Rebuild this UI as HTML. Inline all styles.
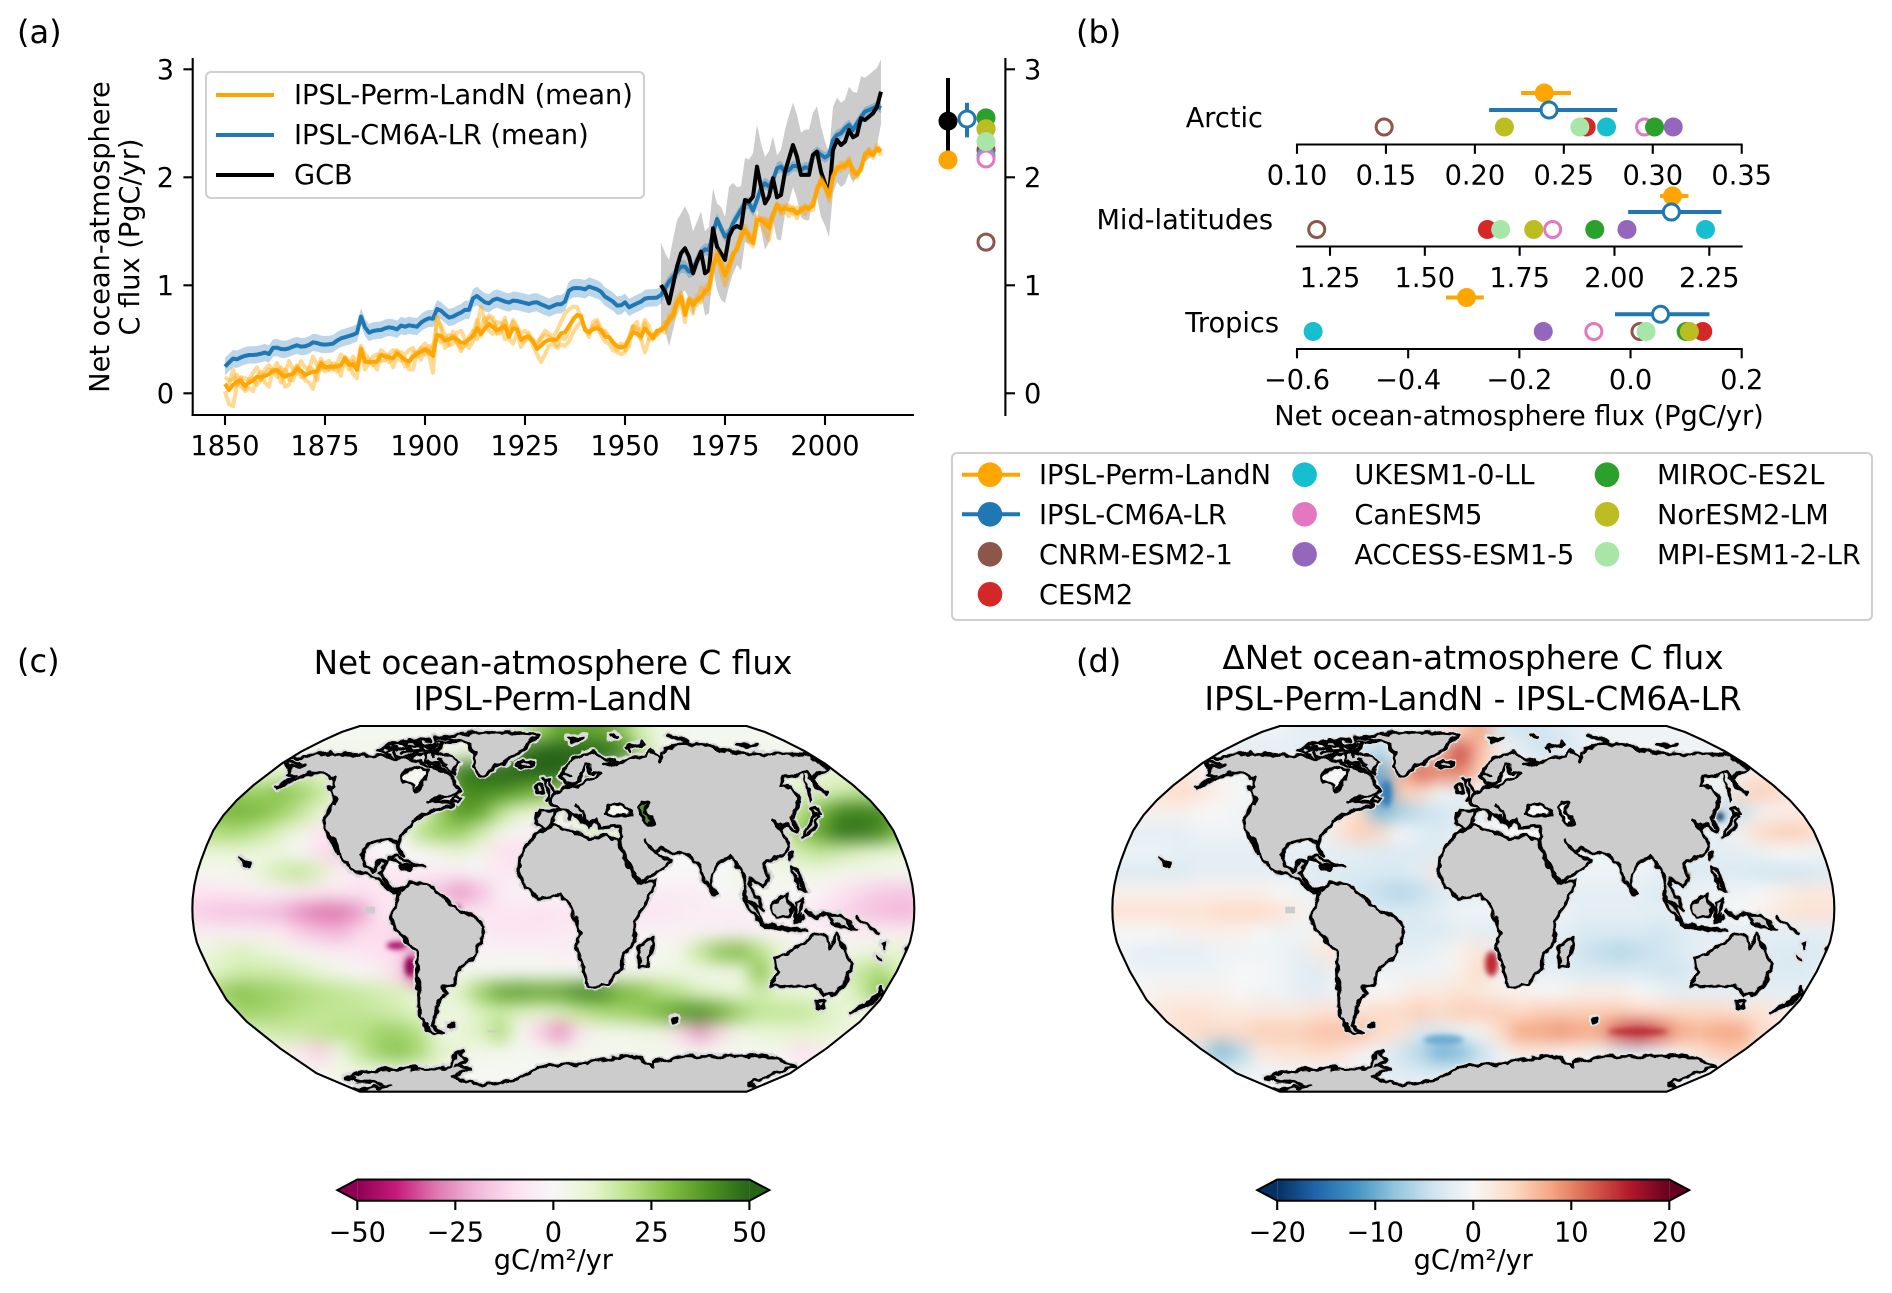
<!DOCTYPE html>
<html lang="en">
<head>
<meta charset="utf-8">
<title>Net ocean-atmosphere carbon flux</title>
<style>
html,body{margin:0;padding:0;background:#fff;}
#figure{display:block;font-family:"DejaVu Sans","Liberation Sans",sans-serif;fill:#000;}
.tick{font-size:27.2px;}
.title{font-size:32.7px;text-anchor:middle;}
.panel{font-size:32px;}
.coast{fill:#cccccc;stroke:var(--cs,#000);stroke-width:var(--cw,3.2);vector-effect:non-scaling-stroke;stroke-linejoin:round;}
.sea{fill:var(--sea);stroke:var(--cs,#000);stroke-width:var(--cw,3.2);vector-effect:non-scaling-stroke;stroke-linejoin:round;}
.lake{fill:var(--lake);stroke:var(--cs,#000);stroke-width:var(--cw,3.2);vector-effect:non-scaling-stroke;stroke-linejoin:round;}
.ln{fill:none;stroke:var(--cs,#000);stroke-width:var(--cw,3.4);vector-effect:non-scaling-stroke;stroke-linejoin:round;stroke-linecap:round;}
.blob{fill:var(--cs,#000);stroke:var(--cs,#000);stroke-width:var(--cw,1.5);vector-effect:non-scaling-stroke;stroke-linejoin:round;}
.edge{fill:none;stroke:#000;stroke-width:2.1;vector-effect:non-scaling-stroke;}
</style>
</head>
<body>
<svg id="figure" xmlns="http://www.w3.org/2000/svg" width="1892" height="1293" viewBox="0 0 1892 1293">
<defs>
  <filter id="field-blur" filterUnits="userSpaceOnUse" x="-150" y="-150" width="2500" height="1450" color-interpolation-filters="sRGB">
    <feGaussianBlur stdDeviation="26"/>
  </filter>
  <filter id="hotspot-blur" filterUnits="userSpaceOnUse" x="-150" y="-150" width="2500" height="1450" color-interpolation-filters="sRGB">
    <feGaussianBlur stdDeviation="8"/>
  </filter>
  <filter id="coast-wobble" filterUnits="userSpaceOnUse" x="-50" y="-50" width="2300" height="1250" color-interpolation-filters="sRGB">
    <feTurbulence type="fractalNoise" baseFrequency=".035" numOctaves="2" seed="4" result="n"/>
    <feDisplacementMap in="SourceGraphic" in2="n" scale="22" xChannelSelector="R" yChannelSelector="G"/>
  </filter>
  <clipPath id="map-clip"><path id="map-clip-path" d=""/></clipPath>
  <linearGradient id="cbar-c" x1="0" x2="1" y1="0" y2="0">
    <stop offset="0" stop-color="#8e0152"/><stop offset=".1" stop-color="#c51b7d"/><stop offset=".2" stop-color="#de77ae"/><stop offset=".3" stop-color="#f1b6da"/><stop offset=".4" stop-color="#fde0ef"/><stop offset=".5" stop-color="#f7f7f7"/><stop offset=".6" stop-color="#e6f5d0"/><stop offset=".7" stop-color="#b8e186"/><stop offset=".8" stop-color="#7fbc41"/><stop offset=".9" stop-color="#4d9221"/><stop offset="1" stop-color="#276419"/>
  </linearGradient>
  <linearGradient id="cbar-d" x1="0" x2="1" y1="0" y2="0">
    <stop offset="0" stop-color="#053061"/><stop offset=".1" stop-color="#2166ac"/><stop offset=".2" stop-color="#4393c3"/><stop offset=".3" stop-color="#92c5de"/><stop offset=".4" stop-color="#d1e5f0"/><stop offset=".5" stop-color="#f7f7f7"/><stop offset=".6" stop-color="#fddbc7"/><stop offset=".7" stop-color="#f4a582"/><stop offset=".8" stop-color="#d6604d"/><stop offset=".9" stop-color="#b2182b"/><stop offset="1" stop-color="#67001f"/>
  </linearGradient>
  <g id="land">
    <path class="coast" d="M285,125 L300,110 L330,108 L365,100 L420,92 L480,98 L520,102 L560,100 L600,108 L650,108 L700,122 L720,135 L760,150 L785,162 L800,190 L806,208 L770,222 L735,232 L710,243 L745,238 L775,240 L790,250 L760,258 L735,266 L700,277 L668,298 L655,322 L630,345 L622,362 L628,378 L640,398 L625,392 L618,362 L600,352 L570,356 L540,363 L522,378 L515,405 L527,432 L548,447 L560,440 L568,420 L585,415 L578,440 L570,452 L590,485 L610,500 L630,508 L612,512 L590,497 L565,472 L530,458 L495,450 L470,432 L450,405 L432,375 L420,345 L408,320 L403,290 L415,262 L428,245 L438,230 L420,205 L435,190 L430,170 L400,155 L370,152 L335,165 L300,180 L258,195 L300,170 L320,160 L290,160 L300,140 Z"/>
    <path class="sea" d="M635,165 L650,145 L690,135 L715,145 L710,165 L690,180 L680,210 L672,205 L670,190 L640,180 Z"/>
    <path class="coast" d="M735,48 L790,42 L820,58 L770,62 L735,58 Z M700,100 L735,88 L775,100 L810,120 L800,135 L780,155 L760,145 L735,125 L705,115 Z M610,85 L650,75 L680,95 L650,108 L615,100 Z M565,85 L600,65 L615,75 L590,95 Z M625,62 L680,55 L700,70 L660,72 Z M690,70 L730,65 L725,85 L695,85 Z M720,120 L750,125 L745,140 L725,135 Z"/>
    <path class="ln" d="M590,75 L620,85 M640,90 L700,85 M680,60 L730,80 M700,105 L740,70 M575,90 L600,100 M730,100 L760,60 M605,62 L650,65 M655,50 L720,55 M670,105 L705,95 M745,110 L770,125 M760,130 L790,150 M290,118 L345,128 L300,135 Z"/>
    <path class="coast" d="M800,55 L740,45 L850,32 L950,32 L1045,38 L1020,60 L995,90 L960,110 L920,130 L885,160 L865,155 L850,130 L855,95 L835,65 Z"/>
    <path class="coast" d="M980,125 L1000,115 L1030,122 L1020,135 L990,135 Z"/>
    <path class="coast" d="M1060,170 L1080,175 L1090,210 L1100,225 L1070,232 L1075,205 Z M1037,195 L1055,190 L1060,208 L1042,212 Z"/>
    <path class="coast" d="M795,222 L815,228 L805,243 L785,238 Z"/>
    <path class="blob" d="M425,345 L435,350 L447,400 L438,402 Z M412,195 L425,195 L425,210 L414,208 Z M430,225 L445,232 L438,245 L428,238 Z"/>
    <path class="coast" d="M590,408 L620,402 L650,415 L700,435 L660,430 L620,420 Z M630,432 L665,434 L660,440 L632,440 Z"/>
    <path class="blob" d="M148,408 L165,420 L178,425 L175,435 L162,430 Z"/>
    <path class="coast" d="M1045,265 L1110,268 L1080,240 L1085,225 L1100,210 L1130,195 L1165,192 L1190,178 L1230,157 L1196,152 L1198,127 L1186,128 L1174,165 L1150,186 L1128,186 L1110,160 L1140,120 L1180,95 L1210,92 L1245,108 L1275,118 L1245,125 L1265,132 L1305,112 L1370,100 L1380,85 L1415,115 L1415,90 L1480,62 L1550,70 L1590,82 L1645,92 L1720,95 L1780,97 L1860,100 L1920,145 L1880,155 L1865,172 L1880,195 L1908,215 L1890,205 L1865,178 L1850,150 L1825,160 L1780,165 L1770,188 L1805,197 L1828,228 L1825,255 L1808,278 L1802,290 L1825,322 L1818,330 L1795,312 L1770,315 L1745,295 L1775,322 L1792,350 L1795,375 L1770,405 L1730,418 L1720,430 L1740,465 L1725,497 L1685,470 L1678,495 L1705,530 L1720,565 L1700,550 L1660,522 L1670,470 L1645,435 L1622,405 L1590,420 L1565,455 L1560,490 L1578,520 L1560,505 L1545,480 L1520,420 L1480,390 L1440,395 L1415,378 L1390,388 L1368,355 L1385,385 L1410,398 L1440,420 L1420,440 L1350,478 L1320,440 L1285,355 L1295,345 L1292,312 L1230,318 L1215,290 L1200,310 L1185,285 L1158,250 L1180,280 L1195,318 L1165,280 L1120,262 L1090,272 L1090,295 L1075,318 L1037,310 Z"/>
    <path class="sea" d="M1245,275 L1260,248 L1295,245 L1315,265 L1320,280 L1270,282 Z"/>
    <path class="lake" d="M1346,255 L1356,242 L1372,246 L1366,268 L1392,303 L1372,308 L1356,278 Z"/>
    <path class="blob" d="M1135,270 L1145,268 L1142,295 L1133,295 Z"/>
    <path class="coast" d="M1060,325 L1090,310 L1110,318 L1140,322 L1155,330 L1200,350 L1250,342 L1278,350 L1310,420 L1345,482 L1395,476 L1385,510 L1365,549 L1330,600 L1335,660 L1297,700 L1295,740 L1255,787 L1195,794 L1175,725 L1160,680 L1170,625 L1150,575 L1140,548 L1110,515 L1080,527 L1050,530 L1020,510 L1000,485 L985,455 L990,410 L1010,370 L1035,340 Z"/>
    <path class="coast" d="M1345,679 L1385,641 L1392,669 L1370,729 L1348,734 Z"/>
    <path class="coast" d="M630,505 L660,482 L720,490 L760,530 L800,559 L860,589 L885,614 L855,704 L810,734 L790,789 L760,794 L770,814 L745,839 L728,914 L762,929 L725,932 L690,884 L685,799 L680,684 L640,649 L605,604 L608,569 L622,530 Z"/>
    <path class="blob" d="M773,905 L783,901 L794,905 L794,916 L783,920 L773,916 Z M1446,889 L1453,886 L1462,889 L1462,899 L1453,902 L1446,899 Z"/>
    <path class="coast" d="M820,984 L795,999 L785,1029 L770,1039 L680,1039 L560,1044 L510,1054 L465,1067 L500,1079 L540,1079 L600,1094 L540,1097 L490,1099 L510,1130 L1670,1130 L1700,1094 L1675,1084 L1730,1064 L1815,1031 L1745,1007 L1700,999 L1580,1004 L1480,1004 L1390,1019 L1390,1034 L1330,999 L1180,1024 L1080,1029 L1040,1039 L980,1074 L880,1089 L830,1079 L790,1064 L820,1049 L840,1040 L800,1030 L830,1020 L810,1000 Z"/>
    <path class="blob" d="M462,1064 L480,1060 L494,1068 L478,1076 Z M658,1034 L684,1034 L686,1048 L660,1050 Z"/>
    <path class="coast" d="M1740,794 L1760,749 L1755,709 L1820,679 L1875,639 L1910,644 L1918,679 L1940,634 L1965,689 L1985,729 L1970,774 L1935,814 L1900,824 L1875,789 L1830,789 L1780,794 Z"/>
    <path class="coast" d="M1880,839 L1905,839 L1895,859 L1883,857 Z M1980,874 L2040,844 L2080,814 L2070,794 L2065,819 L2025,844 Z"/>
    <path class="coast" d="M1660,522 L1690,549 L1720,600 L1715,605 L1680,565 Z M1745,549 L1790,515 L1805,560 L1800,584 L1760,584 L1745,560 Z M1720,604 L1790,615 L1850,627 L1790,624 L1730,612 Z"/>
    <path class="coast" d="M1910,575 L1950,580 L2000,620 L1960,615 L1930,600 Z M1815,540 L1840,530 L1830,570 L1815,590 Z M1815,590 L1835,580 L1830,598 Z"/>
    <path class="coast" d="M1838,345 L1850,340 L1878,312 L1886,282 L1876,272 L1868,300 L1845,325 Z M1862,262 L1880,258 L1885,270 L1870,275 Z"/>
    <path class="ln" d="M2000,585 L2060,630 M1805,435 L1820,440 L1850,510 L1825,500 Z M1870,580 L1905,575 M1815,600 L1845,585 M1850,570 L1880,585 M1825,470 L1840,500 M1812,560 L1822,600"/>
    <path class="blob" d="M1795,390 L1805,392 L1802,412 L1795,410 Z M1865,225 L1855,195 L1840,160 L1850,190 L1862,240 Z M2080,662 L2088,662 L2086,682 L2081,680 Z M2060,700 L2070,712 L2072,718 L2064,712 Z M2145,680 L2165,672 L2160,690 L2148,690 Z"/>
    <path class="blob" d="M1130,48 L1185,42 L1165,60 L1145,60 Z M1258,40 L1282,40 L1280,47 L1260,47 Z"/>
    <path class="ln" d="M1310,78 L1360,62 L1315,72 L1320,88 M1430,40 L1490,55 M1640,68 L1700,72 M1120,150 L1140,160"/>
  </g>
</defs>

<rect x="0" y="0" width="1892" height="1293" fill="#fff"/>

<text class="panel" x="17" y="43">(a)</text>
<text class="panel" x="1076" y="43">(b)</text>
<text class="panel" x="17" y="672">(c)</text>
<text class="panel" x="1076" y="672">(d)</text>

<!-- panel a -->
<g id="panel-a">
  <g id="a-series"></g>
  <line x1="192.7" x2="192.7" y1="58" y2="416" stroke="#000" stroke-width="2.1"/>
  <line x1="191.6" x2="914" y1="415" y2="415" stroke="#000" stroke-width="2.1"/>
  <line x1="1005.4" x2="1005.4" y1="58" y2="416" stroke="#000" stroke-width="2.1"/>
  <g id="a-axes"></g>
  <g id="a-points"></g>
  <g class="tick" text-anchor="middle">
    <text transform="translate(109,237) rotate(-90)">Net ocean-atmosphere</text>
    <text transform="translate(139,237) rotate(-90)">C flux (PgC/yr)</text>
  </g>
  <g>
    <rect x="206" y="72" width="438" height="126" rx="5" fill="#fff" fill-opacity=".8" stroke="#cfcfcf" stroke-width="2.1"/>
    <line x1="216" x2="274" y1="95" y2="95" stroke="#ffa500" stroke-width="4"/>
    <text class="tick" x="294" y="104">IPSL-Perm-LandN (mean)</text>
    <line x1="216" x2="274" y1="135" y2="135" stroke="#1f77b4" stroke-width="4"/>
    <text class="tick" x="294" y="144">IPSL-CM6A-LR (mean)</text>
    <line x1="216" x2="274" y1="175" y2="175" stroke="#000" stroke-width="4"/>
    <text class="tick" x="294" y="184">GCB</text>
  </g>
</g>

<!-- panel b -->
<g id="panel-b">
  <g id="b-axes"></g>
  <g id="b-points"></g>
  <text class="tick" x="1263" y="127" text-anchor="end">Arctic</text>
  <text class="tick" x="1273" y="229" text-anchor="end">Mid-latitudes</text>
  <text class="tick" x="1279" y="332" text-anchor="end">Tropics</text>
  <text class="tick" x="1519" y="425" text-anchor="middle">Net ocean-atmosphere flux (PgC/yr)</text>
</g>

<!-- legend b -->
<g id="b-legend">
  <rect x="952" y="453" width="920" height="167" rx="5" fill="#fff" stroke="#cfcfcf" stroke-width="2.1"/>
</g>

<!-- panel c -->
<text class="title" x="553" y="674">Net ocean-atmosphere C flux</text>
<text class="title" x="553" y="710">IPSL-Perm-LandN</text>
<g transform="translate(190,722) scale(.33333)" style="--sea:#f6f8f0;--lake:#4d9221">
  <g clip-path="url(#map-clip)">
    <rect x="-10" y="-10" width="2200" height="1130" fill="#f7f7f7"/>
    <g id="field-c" filter="url(#field-blur)"></g>
    <g id="hotspots-c" filter="url(#hotspot-blur)"></g>
    <rect x="526" y="554" width="29" height="20" fill="#ccc"/>
    <rect x="893" y="925" width="28" height="6" fill="#ccc"/>
    <g filter="url(#coast-wobble)">
      <use href="#land" style="--cs:#dcdcdc;--cw:7"/>
      <use href="#land"/>
    </g>
  </g>
  <path class="edge map-edge" d=""/>
</g>
<g id="cbar-c-group"></g>

<!-- panel d -->
<text class="title" x="1473" y="669">ΔNet ocean-atmosphere C flux</text>
<text class="title" x="1473" y="710">IPSL-Perm-LandN - IPSL-CM6A-LR</text>
<g transform="translate(1110,722) scale(.33333)" style="--sea:#f7f7f7;--lake:#f7f7f7">
  <g clip-path="url(#map-clip)">
    <rect x="-10" y="-10" width="2200" height="1130" fill="#f7f7f7"/>
    <g id="field-d" filter="url(#field-blur)"></g>
    <g id="hotspots-d" filter="url(#hotspot-blur)"></g>
    <rect x="526" y="554" width="29" height="20" fill="#ccc"/>
    <g filter="url(#coast-wobble)">
      <use href="#land" style="--cs:#e2e2e2;--cw:6"/>
      <use href="#land"/>
    </g>
  </g>
  <path class="edge map-edge" d=""/>
</g>
<g id="cbar-d-group"></g>
</svg>

<script>
// ---------- panel (a) data: PgC/yr, one value per year from 1850 (GCB from 1959) ----------
var firstYear = 1850;
var gcbFirstYear = 1959;
var xTickYears = [1850,1875,1900,1925,1950,1975,2000];
var yTickValues = [0,1,2,3];
var cm6aMean = [
.247,.284,.321,.315,.333,.346,.355,.355,.358,.367,
.377,.364,.42,.423,.41,.407,.417,.432,.444,.432,
.435,.448,.472,.466,.454,.451,.454,.46,.488,.509,
.519,.531,.543,.559,.71,.611,.562,.577,.583,.586,
.602,.611,.605,.593,.627,.617,.63,.623,.617,.654,
.679,.694,.691,.781,.765,.731,.701,.71,.731,.747,
.772,.772,.88,.901,.87,.843,.833,.864,.877,.864,
.849,.84,.858,.855,.846,.836,.827,.84,.843,.824,
.809,.793,.809,.824,.824,.849,.951,.972,.975,.972,
.963,.988,.975,.963,.941,.895,.873,.849,.812,.815,
.843,.796,.815,.833,.849,.877,.883,.883,.886,.91,
.97,1.034,1.074,1.127,1.173,1.173,1.127,1.142,1.235,1.296,
1.333,1.327,1.481,1.614,1.528,1.451,1.481,1.574,1.636,1.698,
1.759,1.759,1.691,1.79,1.898,1.944,1.914,1.975,2.083,2.099,
2.052,2.068,2.105,2.105,2.068,2.093,2.083,2.207,2.238,2.207,
2.182,2.207,2.346,2.392,2.407,2.454,2.485,2.438,2.5,2.556,
2.608,2.623,2.639,2.66,2.639];
var cm6aSpreadByDecade = [.08,.08,.08,.08,.08,.08,.085,.085,.085,.085,.08,.06,.055,.055,.05,.05,.045];
var permMean = [
.086,.031,.077,.108,.117,.068,.099,.117,.154,.148,
.16,.179,.21,.216,.179,.154,.17,.179,.231,.21,
.17,.185,.201,.2,.278,.241,.247,.247,.247,.262,
.324,.262,.272,.216,.407,.293,.293,.293,.293,.355,
.34,.333,.324,.37,.34,.309,.293,.34,.364,.386,
.407,.386,.346,.54,.531,.488,.5,.519,.5,.469,
.469,.5,.531,.602,.549,.602,.642,.611,.586,.602,
.623,.525,.602,.593,.494,.519,.525,.478,.41,.441,
.478,.494,.494,.5,.556,.565,.623,.679,.725,.716,
.586,.565,.593,.602,.586,.525,.519,.469,.432,.423,
.432,.5,.565,.556,.525,.602,.556,.509,.58,.586,
.617,.685,.725,.833,.895,.725,.864,.818,.864,.895,
.941,.972,1.173,1.281,1.188,1.09,1.173,1.281,1.343,1.451,
1.512,1.451,1.389,1.605,1.605,1.574,1.528,1.651,1.744,1.698,
1.713,1.698,1.698,1.667,1.698,1.713,1.713,1.738,1.883,1.975,
1.914,1.821,2.006,2.083,2.099,2.105,2.145,2.052,2.022,2.083,
2.207,2.238,2.207,2.269,2.238];
var permMemberA = [
.02,-.10,-.12,.08,.14,.02,.05,.02,.14,.20,
.10,.06,.22,.28,.20,.06,.08,.20,.26,.18,
.12,.10,.04,.22,.32,.24,.22,.28,.26,.16,
.34,.29,.18,.14,.42,.36,.32,.26,.30,.40,
.37,.29,.33,.40,.34,.25,.26,.38,.37,.42,
.46,.36,.19,.71,.60,.42,.46,.57,.47,.42,
.44,.52,.58,.50,.62,.70,.58,.55,.66,.65,
.50,.58,.66,
.60,.50,.48,.56,.44,.36,.29,.36,.44,.46,
.42,.45,.44,.48,.56,.62,.66,.60,.55,.62,
.66,.54,.48,.46,.40,.38,.36,.38,.44,.62,
.66,.50,.38,.50,.55,.56,.60,
.60,.66,.78,.86,.84,.66,.88,.86,.82,.98,
.92,.92,1.14,1.28,1.12,1.00,1.12,1.30,1.32,1.42,
1.50,1.40,1.36,1.55,1.58,1.50,1.42,1.62,1.76,1.66,
1.68,1.64,1.72,1.62,1.72,1.66,1.72,1.78,1.85,2.00,
1.92,1.78,2.00,2.06,2.14,2.08,2.18,2.00,2.00,2.10,
2.18,2.26,2.18,2.30,2.20];
var permMemberB = [
.15,.12,.13,.17,.06,.04,.13,.19,.24,.12,
.22,.26,.20,.15,.24,.18,.30,.22,.18,.30,
.24,.22,.34,.26,.22,.28,.30,.22,.28,.36,
.30,.22,.30,.24,.36,.22,.28,.34,.36,.30,
.30,.36,.40,.38,.38,.36,.40,.42,.34,.42,
.36,.44,.38,.70,.62,.54,.44,.46,.56,.58,
.50,.42,.48,.62,.80,.66,.72,.70,.56,.60,
.70,.52,.68,
.62,.55,.58,.52,.50,.46,.52,.58,.55,.52,
.58,.66,.74,.78,.80,.80,.70,.60,.52,.66,
.68,.60,.56,.52,.46,.40,.44,.40,.50,.62,
.60,.58,.68,.62,.50,.54,.60,
.56,.72,.70,.76,.92,.78,.82,.74,.90,.84,
.98,1.02,1.20,1.24,1.22,1.14,1.20,1.24,1.38,1.44,
1.55,1.48,1.40,1.64,1.62,1.60,1.58,1.66,1.72,1.74,
1.72,1.74,1.66,1.72,1.68,1.74,1.70,1.70,1.92,1.94,
1.90,1.84,2.02,2.10,2.06,2.14,2.10,2.08,2.04,2.06,
2.22,2.20,2.24,2.24,2.28];
var permMemberC = [
.09,.07,.22,.07,.15,.14,.12,.14,.08,.12,
.18,.22,.21,.22,.10,.22,.13,.12,.25,.15,
.15,.24,.22,.12,.29,.20,.22,.24,.20,.27,
.33,.27,.34,.27,.44,.30,.28,.28,.22,.36,
.35,.35,.24,.33,.30,.33,.22,.22,.38,.31,
.41,.36,.45,.52,.47,.50,.54,.53,.47,.39,
.47,.50,.55,.68,.53,.62,.70,.66,.55,.56,
.67,.50,.46,.56,.43,.50,.50,.49,.42,.51,
.54,.52,.50,.44,.52,.50,.58,.70,.72,.70,
.60,.57,.60,.62,.56,.58,.52,.48,.44,.46,
.44,.52,.62,.54,.50,.65,.50,.52,.54,.58,
.66,.66,.70,.88,.93,.74,.88,.85,.87,.86,
.95,.98,1.18,1.32,1.22,1.13,1.20,1.30,1.33,1.49,
1.49,1.47,1.41,1.62,1.62,1.62,1.58,1.67,1.75,1.68,
1.74,1.72,1.72,1.66,1.70,1.74,1.72,1.74,1.88,1.98,
1.92,1.84,2.00,2.08,2.10,2.10,2.16,2.08,2.02,2.08,
2.22,2.26,2.20,2.26,2.24];
var gcbMean = [
1.003,.941,.833,1.003,1.173,1.296,1.343,1.265,1.111,1.219,
1.312,1.111,1.142,1.528,1.358,1.296,1.235,1.451,1.528,1.549,
1.528,1.79,1.775,1.821,2.099,1.914,1.759,1.821,1.991,1.815,
1.836,2.052,2.176,2.299,2.191,2.022,2.022,2.022,2.207,2.238,
2.052,1.944,1.836,2.253,2.346,2.299,2.33,2.438,2.37,2.392,
2.546,2.531,2.562,2.593,2.654,2.793];
var gcbError = [
.39,.36,.40,.42,.43,.37,.39,.39,.39,.37,
.37,.39,.40,.37,.40,.43,.40,.46,.42,.36,
.39,.39,.39,.40,.39,.40,.43,.42,.39,.39,
.42,.39,.40,.39,.39,.39,.42,.42,.39,.42,
.42,.39,.39,.40,.39,.39,.39,.40,.42,.39,
.39,.39,.39,.39,.36,.30];

// present-day summary points in panel (a)
var aSideMeans = [
  {name:'gcb', col:0, value:2.52, low:2.12, high:2.92, color:'#000000', hollow:false},
  {name:'ipsl-perm-landn', col:0, value:2.16, color:'#ffa500', hollow:false},
  {name:'ipsl-cm6a-lr', col:1, value:2.54, low:2.37, high:2.69, color:'#1f77b4', hollow:true}
];

// ---------- panel (b) data ----------
var modelOrder = ['CNRM-ESM2-1','CESM2','UKESM1-0-LL','CanESM5','ACCESS-ESM1-5','MIROC-ES2L','NorESM2-LM','MPI-ESM1-2-LR'];
var modelColors = ['#8c564b','#d62728','#17becf','#e377c2','#9467bd','#2ca02c','#bcbd22','#a8e6a8'];
var modelHollow = [true,false,false,true,false,false,false,false];
var globalModelValues = [1.40,2.25,2.20,2.17,2.45,2.55,2.45,2.33];
var arcticModelValues = [.149,.2626,.274,.2954,.3115,.301,.2166,.259];
var midlatModelValues = [1.215,1.665,2.24,1.837,2.033,1.948,1.787,1.70];
var tropicsModelValues = [.017,.13,-.571,-.066,-.157,.10,.106,.028];
var arcticTicks = ['0.10','0.15','0.20','0.25','0.30','0.35'];
var midlatTicks = ['1.25','1.50','1.75','2.00','2.25'];
var tropicsTicks = ['-0.6','-0.4','-0.2','0.0','0.2'];
var arcticPerm = [.239,.226,.254];
var arcticCm6a = [.2417,.208,.28];
var midlatPerm = [2.153,2.12,2.195];
var midlatCm6a = [2.15,2.036,2.282];
var tropicsPerm = [-.295,-.332,-.264];
var tropicsCm6a = [.054,-.028,.142];

// ---------- maps: gC/m2/yr on a coarse grid of ocean samples (19 rows x 37 columns, north to south, west to east) ----------
var fluxFieldC = [
[2,2,2,2,2,2,2,2,2,2,2,2,2,2,3,3,8,25,35,35,35,28,14,5,3,2,2,2,2,2,2,2,2,2,2,2,2],
[3,3,3,3,3,3,3,3,3,3,3,3,3,5,10,20,45,50,50,50,50,45,22,5,3,3,3,3,3,3,3,3,3,3,3,3,3],
[5,5,5,5,10,12,10,8,5,5,5,5,10,45,48,50,50,50,50,46,22,5,3,3,3,3,3,3,3,3,3,10,10,8,3,3,3],
[25,25,25,25,28,25,18,10,5,5,3,3,15,40,42,40,36,30,25,15,5,5,5,5,5,5,5,5,5,10,12,12,15,18,15,10,5],
[25,30,32,30,25,18,10,5,5,5,5,5,25,38,35,20,10,8,5,5,5,5,5,5,5,5,5,5,10,15,20,30,42,44,42,30,20],
[20,22,22,18,12,5,-8,-8,0,0,0,20,25,25,15,3,-2,-5,-3,8,15,10,0,0,0,0,0,0,8,12,25,36,46,46,42,30,20],
[8,8,8,6,5,0,-10,-15,-8,0,0,0,3,8,3,-10,-10,-5,-3,0,0,0,0,0,0,0,0,0,5,10,15,18,15,12,10,8,5],
[2,2,3,8,15,18,12,-3,-10,-8,-5,-5,-5,-3,-2,-6,-8,-2,0,0,0,0,0,0,0,0,0,5,3,3,5,5,3,3,3,2,2],
[-8,-8,-6,-4,-3,-5,-6,-6,-7,-8,-10,-15,-18,-25,-18,-5,-2,0,0,-2,-3,-3,-3,-5,-5,-5,0,2,2,2,0,-2,-8,-12,-15,-16,-15],
[-14,-17,-17,-18,-20,-26,-30,-30,-24,-8,-5,-5,-5,-8,-8,-8,-8,-10,-8,-8,-8,-8,-8,-8,-6,-5,-5,-5,-3,-3,-5,-8,-12,-16,-18,-20,-18],
[-5,-5,-5,-5,-6,-14,-18,-20,-12,-10,-15,-8,-5,-5,-5,-8,-8,-8,-6,-6,-6,-5,-3,-3,-3,-3,-3,-4,-3,-3,-3,-3,-4,-5,-5,-5,-5],
[5,10,12,10,5,2,-3,-5,-8,-10,-12,-30,-5,-3,-3,-2,-2,-2,-4,-5,-5,-3,-1,2,5,18,28,30,20,10,5,5,3,5,8,10,10],
[10,12,15,15,15,12,8,3,0,-5,-12,-40,-5,3,2,2,2,2,2,0,-1,2,3,5,5,3,3,5,28,10,5,5,8,18,22,12,5],
[15,24,28,26,24,22,20,18,16,14,12,8,8,12,25,35,37,35,36,42,42,32,28,22,18,12,10,8,15,10,8,8,8,15,28,25,10],
[10,15,24,24,22,20,18,18,18,16,14,10,8,5,12,15,12,10,12,18,22,24,26,32,38,40,34,25,18,18,18,14,10,5,3,3,3],
[8,8,10,14,16,16,18,20,20,24,24,20,5,8,12,22,0,-14,-26,-8,3,2,5,5,-12,-24,-12,3,8,10,10,10,8,5,3,3,3],
[2,2,2,2,3,-8,-14,5,18,25,28,22,12,8,3,2,2,2,3,3,3,3,3,3,3,3,3,3,2,2,-10,-6,2,2,3,2,2],
[1,1,1,1,1,2,2,5,5,6,6,5,3,2,1,1,1,1,1,1,1,1,1,1,1,1,1,1,1,1,1,1,1,1,1,1,1],
[0,0,0,0,0,0,0,0,0,0,0,0,0,0,0,0,0,0,0,0,0,0,0,0,0,0,0,0,0,0,0,0,0,0,0,0,0]
];
var fluxFieldD = [
[-1,-1,-1,-1,-1,-1,-1,-1,-1,-2,-2,-2,-2,-2,-1,-1,-1,4,8,-3,-4,-4,-3,-2,-1,-1,-1,-1,-1,-1,-1,-1,-1,-1,-1,-1,-1],
[-1,-1,-1,-1,-1,-2,-2,-2,-2,-2,-2,-2,-3,-6,0,2,6,14,6,1,-2,-4,-4,-2,-1,-1,-1,-1,-1,-1,-1,-1,-1,-1,-1,-1,-1],
[3,3,3,2,1,0,-1,-1,-1,-1,-2,-2,-6,-10,6,12,10,10,5,2,0,-1,-1,-1,-1,-1,-1,-1,-1,-1,-1,-1,2,3,2,0,0],
[3,3,3,4,3,1,0,-1,-1,-1,-1,-2,-6,-14,5,4,0,-2,0,-1,-1,-1,-1,-1,-1,-1,-1,-1,-1,-2,-1,4,5,4,3,2,1],
[0,1,1,1,0,0,-1,-1,-1,-1,-1,2,4,-9,-7,-5,-4,-3,-2,-1,-1,-1,-1,-1,-1,-1,-1,-1,-1,-2,-5,-5,-1,1,1,1,0],
[-2,-2,-2,-2,-1,-1,-1,-1,-1,-1,-1,3,5,4,0,-2,-3,-2,-1,0,0,0,-1,-1,-1,-1,-1,-1,-1,-1,-2,1,4,5,5,3,1],
[-1,-1,-1,-2,-2,-2,-2,-2,-2,-2,-2,-2,-2,-3,-3,-3,-3,-2,-1,-1,-1,-1,-1,-1,-1,-1,-1,-1,-2,-2,-2,-2,-1,0,0,-1,-1],
[-3,-3,-3,-3,-2,-2,-2,-2,-2,-2,-3,-3,-3,-3,-3,-2,3,-1,-1,-1,-1,-1,-1,-1,-1,-1,-1,-2,-3,-3,-3,-3,-4,-4,-4,-3,-3],
[1,1,1,1,1,1,1,1,0,-1,-2,-3,-4,-5,-6,-5,-3,-2,-2,-1,-1,-1,-2,-2,-2,-2,-2,-3,-2,-1,-1,-1,0,1,2,2,2],
[3,3,3,3,3,4,4,4,3,1,-1,-1,-2,-3,-3,-3,-2,-1,-1,-1,-1,-1,-1,-2,-2,-2,-2,-2,-2,-1,-1,0,1,2,3,3,3],
[0,0,0,1,1,1,1,0,-1,-1,1,-1,-2,-3,-3,-3,-3,-2,-2,-3,-3,-2,-2,-3,-3,-3,-3,-4,-3,-2,-2,-2,-2,-2,-2,-2,-2],
[-1,-2,-2,-2,-2,-1,-1,-1,-1,-2,2,3,-1,-2,-2,-2,-1,1,3,-1,-2,-3,-3,-4,-5,-6,-5,-4,-3,-2,-2,-2,-2,-3,-3,-3,-2],
[-1,-1,-1,-1,-1,-1,0,0,-1,-2,-3,1,-1,-1,-1,-1,-1,1,4,-1,-1,-2,-2,-3,-3,-3,-3,-4,-4,-2,-2,-2,-3,-3,-3,-2,-1],
[0,0,1,1,1,1,0,-1,-1,-2,-2,-1,-1,0,1,2,2,3,2,1,1,0,0,1,1,1,0,-1,-2,-2,-2,-2,-2,-2,-2,-2,-1],
[1,1,2,3,3,2,2,2,2,2,3,3,3,4,4,5,4,5,5,5,4,5,5,5,5,5,4,4,4,4,4,3,3,2,1,1,1],
[1,1,2,3,4,4,4,5,5,5,6,6,6,4,3,-3,-3,-1,0,4,8,8,9,8,8,13,15,12,8,7,8,8,4,2,1,1,1],
[1,1,1,-2,-4,-9,-6,2,3,3,4,3,1,-1,-4,-6,-10,-9,-5,-1,2,2,1,1,-1,-3,-3,-1,1,3,5,5,2,1,1,1,1],
[0,0,0,0,-1,-2,-2,-1,-1,-1,-1,-1,-1,-2,-3,-3,-3,-2,-2,-2,-1,-1,-1,-1,-1,-1,-1,-1,-2,-2,-1,-1,-1,-1,-1,0,0],
[0,0,0,0,0,0,0,0,0,0,-1,-1,-1,-1,-1,-1,-1,-1,-1,-1,-1,-1,-1,-1,-1,-1,-1,-1,-1,-1,-1,0,0,0,0,0,0]
];
// narrow features finer than the grid: column, row (in grid units), half-widths, value
var hotspotsC = [
  {col:11,row:12.23,colSpan:.25,rowSpan:.5,value:-50},
  {col:10.33,row:11.18,colSpan:.5,rowSpan:.2,value:-45},
  {col:13.33,row:9.3,colSpan:.2,rowSpan:.13,value:-48}
];
var hotspotsD = [
  {col:30.5,row:4.73,colSpan:.2,rowSpan:.23,value:-20},
  {col:19.08,row:12.08,colSpan:.33,rowSpan:.63,value:15},
  {col:13.83,row:3.58,colSpan:.25,rowSpan:.67,value:-14},
  {col:26.4,row:15.48,colSpan:1.5,rowSpan:.15,value:15},
  {col:16.67,row:15.9,colSpan:1,rowSpan:.25,value:-10}
];
var cbarTicksC = [-50,-25,0,25,50];
var cbarTicksD = [-20,-10,0,10,20];
var piygStops = ['#8e0152','#c51b7d','#de77ae','#f1b6da','#fde0ef','#f7f7f7','#e6f5d0','#b8e186','#7fbc41','#4d9221','#276419'];
var rdbuStops = ['#053061','#2166ac','#4393c3','#92c5de','#d1e5f0','#f7f7f7','#fddbc7','#f4a582','#d6604d','#b2182b','#67001f'];

// ---------- helpers ----------
var NS = 'http://www.w3.org/2000/svg';
function mk(parent, tag, attrs){
  var e = document.createElementNS(NS, tag);
  for (var k in attrs) e.setAttribute(k, attrs[k]);
  parent.appendChild(e);
  return e;
}
function byId(id){ return document.getElementById(id); }
function xYear(y){ return 225 + 4*(y-1850); }
function yFlux(v){ return 393.3 - 108*v; }
function linePath(values, start){
  var d = '';
  for (var i=0;i<values.length;i++){
    d += (i?'L':'M') + xYear(start+i).toFixed(1) + ',' + yFlux(values[i]).toFixed(1) + ' ';
  }
  return d;
}
function bandPath(values, errAt, start){
  var top = '', bot = '';
  for (var i=0;i<values.length;i++){
    top += (i?'L':'M') + xYear(start+i).toFixed(1) + ',' + yFlux(values[i]+errAt(i)).toFixed(1) + ' ';
  }
  for (var j=values.length-1;j>=0;j--){
    bot += 'L' + xYear(start+j).toFixed(1) + ',' + yFlux(values[j]-errAt(j)).toFixed(1) + ' ';
  }
  return top + bot + 'Z';
}
function label(parent, x, y, anchor, str){
  var t = mk(parent, 'text', {x:x, y:y, 'text-anchor':anchor, 'class':'tick'});
  t.textContent = str.replace('-', '\u2212');
  return t;
}

// ---------- panel a ----------
(function(){
  var g = byId('a-series');
  var p;
  p = mk(g,'path',{d:bandPath(gcbMean,function(i){return gcbError[i];},gcbFirstYear),fill:'#cccccc'});
  
  
  p = mk(g,'path',{d:bandPath(cm6aMean,function(i){return cm6aSpreadByDecade[Math.floor(i/10)];},firstYear),fill:'#1f77b4','fill-opacity':.3});
  
  
  p = mk(g,'path',{d:linePath(cm6aMean,firstYear),fill:'none',stroke:'#1f77b4','stroke-width':4,'stroke-linejoin':'round'});
  
  
  p = mk(g,'path',{d:linePath(gcbMean,gcbFirstYear),fill:'none',stroke:'#000','stroke-width':4,'stroke-linejoin':'round'});
  
  
  p = mk(g,'path',{d:linePath(permMemberA,firstYear),fill:'none',stroke:'#ffa500','stroke-width':4,'stroke-opacity':.42,'stroke-linejoin':'round'});
  
  
  p = mk(g,'path',{d:linePath(permMemberB,firstYear),fill:'none',stroke:'#ffa500','stroke-width':4,'stroke-opacity':.42,'stroke-linejoin':'round'});
  
  
  p = mk(g,'path',{d:linePath(permMemberC,firstYear),fill:'none',stroke:'#ffa500','stroke-width':4,'stroke-opacity':.42,'stroke-linejoin':'round'});
  
  
  p = mk(g,'path',{d:linePath(permMean,firstYear),fill:'none',stroke:'#ffa500','stroke-width':4,'stroke-linejoin':'round'});
  
  

  var ax = byId('a-axes');
  xTickYears.forEach(function(y){
    var l = mk(ax,'line',{x1:xYear(y),x2:xYear(y),y1:415,y2:425,stroke:'#000','stroke-width':2.1});
    
    
    var t = label(ax,xYear(y),455,'middle',String(y));
    
    
  });
  yTickValues.forEach(function(v){
    var l = mk(ax,'line',{x1:183.4,x2:192.7,y1:yFlux(v),y2:yFlux(v),stroke:'#000','stroke-width':2.1});
    
    
    var t = label(ax,174,yFlux(v)+9.7,'end',String(v));
    
    
    var r = mk(ax,'line',{x1:1005.4,x2:1015,y1:yFlux(v),y2:yFlux(v),stroke:'#000','stroke-width':2.1});
    
    
    var rt = label(ax,1024,yFlux(v)+9.7,'start',String(v));
    
    
  });

  var pts = byId('a-points');
  function colX(k){ return 948 + 19*k; }
  aSideMeans.forEach(function(m){
    if (m.low !== undefined){
      var w = mk(pts,'line',{x1:colX(m.col),x2:colX(m.col),y1:yFlux(m.high),y2:yFlux(m.low),stroke:m.color,'stroke-width':4});
      
      
    }
  });
  aSideMeans.forEach(function(m){
    var c = mk(pts,'circle',{cx:colX(m.col),cy:yFlux(m.value),r:m.hollow?8:9.5,fill:m.hollow?'#fff':m.color,stroke:m.hollow?m.color:'none','stroke-width':3});
    
    
  });
  modelOrder.forEach(function(name,i){
    var h = modelHollow[i];
    var c = mk(pts,'circle',{cx:colX(2),cy:yFlux(globalModelValues[i]),r:h?8:9.5,fill:h?'#fff':modelColors[i],stroke:h?modelColors[i]:'none','stroke-width':3});
    
    
  });
})();

// ---------- panel b ----------
(function(){
  var axes = byId('b-axes');
  var pts = byId('b-points');
  function arcticX(v){ return 1297 + (v-.10)*444.7/.25; }
  function midlatX(v){ return 1330 + (v-1.25)*379.3; }
  function tropicsX(v){ return 1297 + (v+.6)*444.7/.8; }
  var regions = [
    {name:'arctic',axisY:144.5,labelY:184.5,rows:[93,110,127],ticks:arcticTicks,fn:arcticX,perm:arcticPerm,cm6a:arcticCm6a,vals:arcticModelValues},
    {name:'mid-latitudes',axisY:246.5,labelY:287,rows:[196,212,229.5],ticks:midlatTicks,fn:midlatX,perm:midlatPerm,cm6a:midlatCm6a,vals:midlatModelValues},
    {name:'tropics',axisY:349,labelY:389,rows:[297.5,314.3,331.5],ticks:tropicsTicks,fn:tropicsX,perm:tropicsPerm,cm6a:tropicsCm6a,vals:tropicsModelValues}
  ];
  regions.forEach(function(r){
    var spine = mk(axes,'line',{x1:1296,x2:1742.7,y1:r.axisY,y2:r.axisY,stroke:'#000','stroke-width':2.1});
    
    
    r.ticks.forEach(function(s){
      var x = r.fn(parseFloat(s));
      var l = mk(axes,'line',{x1:x,x2:x,y1:r.axisY,y2:r.axisY+9.3,stroke:'#000','stroke-width':2.1});
      
      
      var t = label(axes,x,r.labelY,'middle',s);
      
      
    });
    var pl = mk(pts,'line',{x1:r.fn(r.perm[1]),x2:r.fn(r.perm[2]),y1:r.rows[0],y2:r.rows[0],stroke:'#ffa500','stroke-width':4});
    
    
    var pc = mk(pts,'circle',{cx:r.fn(r.perm[0]),cy:r.rows[0],r:9.5,fill:'#ffa500'});
    
    
    var bl = mk(pts,'line',{x1:r.fn(r.cm6a[1]),x2:r.fn(r.cm6a[2]),y1:r.rows[1],y2:r.rows[1],stroke:'#1f77b4','stroke-width':4});
    
    
    var bc = mk(pts,'circle',{cx:r.fn(r.cm6a[0]),cy:r.rows[1],r:8,fill:'#fff',stroke:'#1f77b4','stroke-width':3});
    
    
    modelOrder.forEach(function(name,i){
      var h = modelHollow[i];
      var c = mk(pts,'circle',{cx:r.fn(r.vals[i]),cy:r.rows[2],r:h?8:9.5,fill:h?'#fff':modelColors[i],stroke:h?modelColors[i]:'none','stroke-width':3});
      
      
    });
  });
})();

// ---------- model legend ----------
(function(){
  var g = byId('b-legend');
  var rowY = [474.7,514.3,554.3,594.3];
  var entries = [
    {t:'IPSL-Perm-LandN',c:'#ffa500',mx:990,tx:1039,row:0,line:true},
    {t:'IPSL-CM6A-LR',c:'#1f77b4',mx:990,tx:1039,row:1,line:true},
    {t:modelOrder[0],c:modelColors[0],mx:990,tx:1039,row:2},
    {t:modelOrder[1],c:modelColors[1],mx:990,tx:1039,row:3},
    {t:modelOrder[2],c:modelColors[2],mx:1304.6,tx:1354.4,row:0},
    {t:modelOrder[3],c:modelColors[3],mx:1304.6,tx:1354.4,row:1},
    {t:modelOrder[4],c:modelColors[4],mx:1304.6,tx:1354.4,row:2},
    {t:modelOrder[5],c:modelColors[5],mx:1607,tx:1657,row:0},
    {t:modelOrder[6],c:modelColors[6],mx:1607,tx:1657,row:1},
    {t:modelOrder[7],c:modelColors[7],mx:1607,tx:1657,row:2}
  ];
  entries.forEach(function(e){
    var y = rowY[e.row];
    if (e.line){
      var l = mk(g,'line',{x1:e.mx-28,x2:e.mx+30,y1:y,y2:y,stroke:e.c,'stroke-width':4});
      
      
    }
    var c = mk(g,'circle',{cx:e.mx,cy:y,r:12.3,fill:e.c});
    
    
    var t = mk(g,'text',{x:e.tx,y:y+9.5,'class':'tick'});
    t.textContent = e.t;
    
    
  });
})();

// ---------- maps ----------
var outlineWest = [[510,12],[455,30],[400,55],[335,88],[275,125],[190,190],[140,235],[100,280],[70,325],[50,370],[33,415],[22,450],[13,490],[8,530],[7,560],[8,590],[12,625],[20,660],[30,685],[60,749],[110,834],[170,899],[270,979],[380,1054],[510,1109]];
(function(){
  var d = 'M' + outlineWest.map(function(p){return p[0]+','+p[1];}).join(' L');
  for (var i=outlineWest.length-1;i>=0;i--){ d += ' L' + (2180-outlineWest[i][0]) + ',' + outlineWest[i][1]; }
  d += ' Z';
  byId('map-clip-path').setAttribute('d', d);
  Array.prototype.forEach.call(document.querySelectorAll('.map-edge'), function(e){ e.setAttribute('d', d); });

  function ramp(stops, vmax){
    function hex(s,i){ return parseInt(s.substr(i,2),16); }
    return function(v){
      var t = Math.max(0,Math.min(1,(v+vmax)/(2*vmax)))*(stops.length-1);
      var k = Math.min(stops.length-2,Math.floor(t)), f = t-k;
      var a = stops[k], b = stops[k+1];
      var r = Math.round(hex(a,1)+(hex(b,1)-hex(a,1))*f);
      var g = Math.round(hex(a,3)+(hex(b,3)-hex(a,3))*f);
      var bl = Math.round(hex(a,5)+(hex(b,5)-hex(a,5))*f);
      return 'rgb('+r+','+g+','+bl+')';
    };
  }
  function colLeft(j){ return j===0 ? -150 : 60*j; }
  function colRight(j,n){ return j===n-1 ? 2350 : 60*(j+1)+1; }
  function rowTop(i){ return i===0 ? -150 : 60*i; }
  function rowBottom(i,n){ return i===n-1 ? 1300 : 60*(i+1)+1; }
  function drawField(group, field, color, prefix){
    field.forEach(function(row,i){
      row.forEach(function(v,j){
        var x0 = colLeft(j), x1 = colRight(j,row.length), y0 = rowTop(i), y1 = rowBottom(i,field.length);
        var cell = mk(group,'rect',{x:x0,y:y0,width:x1-x0,height:y1-y0,fill:color(v),'shape-rendering':'crispEdges'});
        
        
      });
    });
  }
  function drawHotspots(group, spots, color, prefix){
    spots.forEach(function(s){
      var e = mk(group,'ellipse',{cx:s.col*60,cy:s.row*60,rx:s.colSpan*60,ry:s.rowSpan*60,fill:color(s.value)});
      
      
    });
  }
  var colorC = ramp(piygStops,50), colorD = ramp(rdbuStops,20);
  drawField(byId('field-c'), fluxFieldC, colorC, 'map-c');
  drawField(byId('field-d'), fluxFieldD, colorD, 'map-d');
  drawHotspots(byId('hotspots-c'), hotspotsC, colorC, 'map-c');
  drawHotspots(byId('hotspots-d'), hotspotsD, colorD, 'map-d');

  function drawColorbar(group, gradient, ticks, x0, x1, lowTip, highTip, prefix){
    var top = 1179.5, bot = 1200.7, mid = (top+bot)/2;
    var tipL = mk(group,'polygon',{points:x0+','+top+' '+(x0-20)+','+mid+' '+x0+','+bot,fill:lowTip});
    
    
    var tipH = mk(group,'polygon',{points:x1+','+top+' '+(x1+20)+','+mid+' '+x1+','+bot,fill:highTip});
    
    
    var bar = mk(group,'rect',{x:x0,y:top,width:x1-x0,height:bot-top,fill:'url(#'+gradient+')'});
    
    
    var frame = mk(group,'polygon',{points:x0+','+top+' '+x1+','+top+' '+(x1+20)+','+mid+' '+x1+','+bot+' '+x0+','+bot+' '+(x0-20)+','+mid,fill:'none',stroke:'#000','stroke-width':2});
    
    
    var lo = ticks[0], hi = ticks[ticks.length-1];
    ticks.forEach(function(v){
      var x = x0+(v-lo)/(hi-lo)*(x1-x0);
      var l = mk(group,'line',{x1:x,x2:x,y1:bot,y2:bot+9.3,stroke:'#000','stroke-width':2.1});
      
      
      var t = label(group,x,1241.7,'middle',String(v));
      
      
    });
    var u = mk(group,'text',{x:(x0+x1)/2,y:1269,'text-anchor':'middle','class':'tick'});
    u.textContent = 'gC/m\u00b2/yr';
    
    
  }
  drawColorbar(byId('cbar-c-group'),'cbar-c',cbarTicksC,357.3,749.4,'#8e0152','#276419','map-c-colorbar');
  drawColorbar(byId('cbar-d-group'),'cbar-d',cbarTicksD,1277.2,1669.3,'#053061','#67001f','map-d-colorbar');
})();
</script>
</body>
</html>
